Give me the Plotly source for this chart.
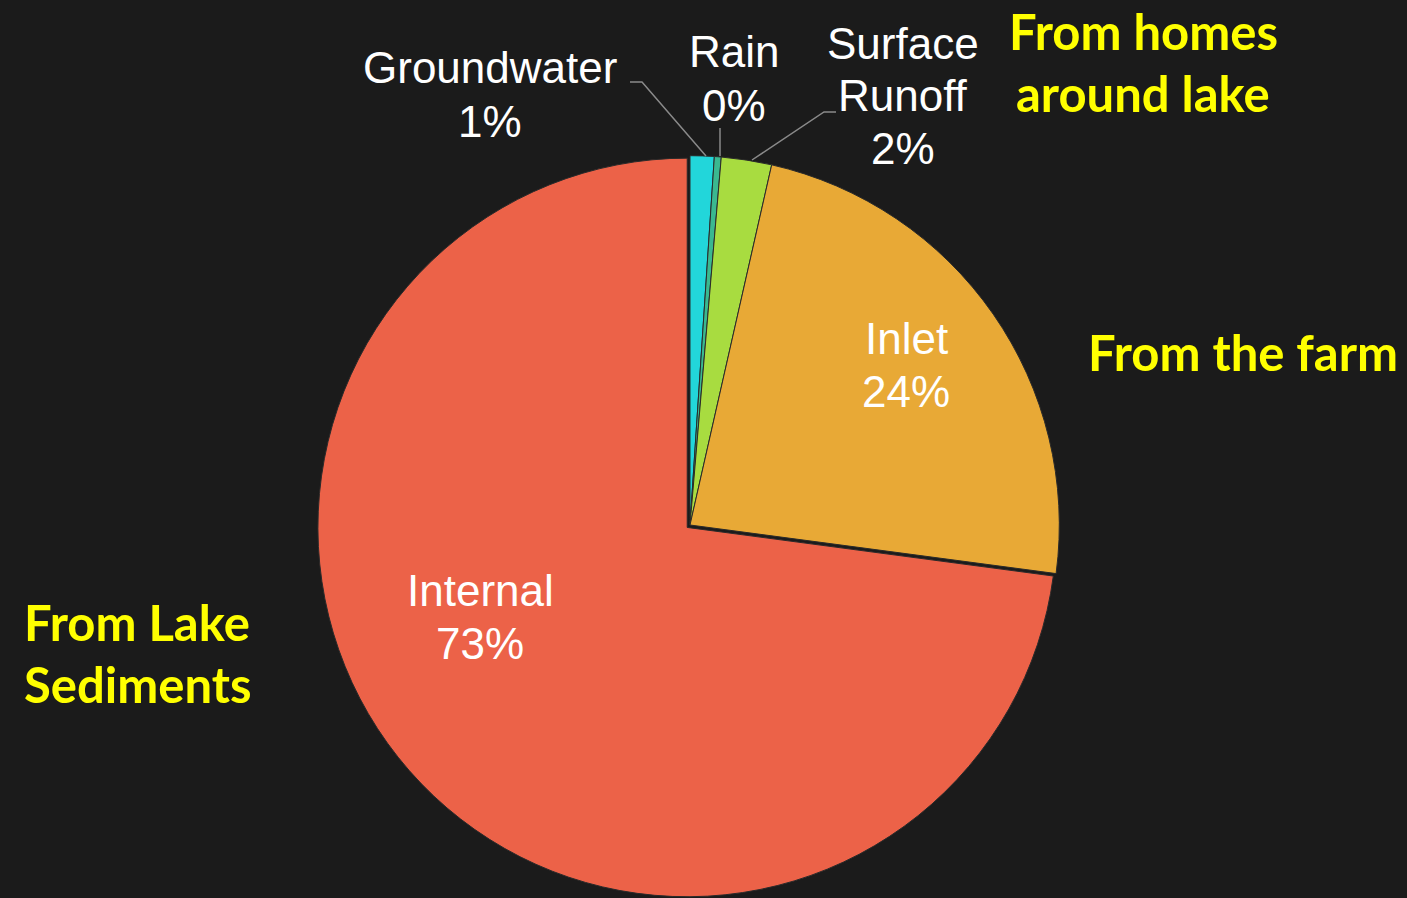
import plotly.graph_objects as go

# Data
sources = ["Groundwater", "Rain", "Surface Runoff", "Inlet", "Internal"]
values = [1.05, 0.3, 2.2, 23.55, 72.9]
colors = ["#22d6da", "#3ab890", "#a8dc40", "#e8a936", "#ec6248"]
pulls = [0, 0, 0, 0, 0.01]
label_lines = [["Groundwater"], ["Rain"], ["Surface", "Runoff"], ["Inlet"], ["Internal"]]
callouts = [["From homes", "around lake"], ["From the farm"], ["From Lake", "Sediments"]]

W, H = 1407, 898
cx, cy = 690, 525
half = H - cy  # 373

total = sum(values)
pct = [round(v / total * 100) for v in values]

fig = go.Figure()
fig.add_trace(go.Pie(
    labels=sources,
    values=values,
    sort=False,
    direction="clockwise",
    rotation=0,
    pull=pulls,
    marker=dict(colors=colors, line=dict(color="#2a2a2a", width=1)),
    textinfo="none",
    showlegend=False,
    hoverinfo="label+percent",
    domain=dict(x=[(cx - half) / W, (cx + half) / W],
                y=[0, 2 * half / H]),
))

def px(x):
    return x / W

def py(y):
    return 1 - y / H

ann = []
lab_font = dict(color="white", size=44, family="Liberation Sans")
# (center x, first line y) for each slice label block
label_pos = [(490, 68), (734, 52), (903, 43), (906, 338), (480, 590)]
step = 53
for lines, p, (x, y0) in zip(label_lines, pct, label_pos):
    for i, t in enumerate(lines + [f"{p}%"]):
        ann.append(dict(x=px(x), y=py(y0 + i * step), xref="paper", yref="paper",
                        text=t, showarrow=False, font=lab_font,
                        xanchor="center", yanchor="middle"))

call_font = dict(color="#ffff00", size=49, family="Lato", weight="bold")
call_pos = [(1143, 31), (1243, 352), (137, 622)]
cstep = 62
for lines, (x, y0) in zip(callouts, call_pos):
    for i, t in enumerate(lines):
        ann.append(dict(x=px(x), y=py(y0 + i * cstep), xref="paper", yref="paper",
                        text=f"<b>{t}</b>", showarrow=False, font=call_font,
                        xanchor="center", yanchor="middle"))

shapes = []
line = dict(color="#8a8a8a", width=1.5)
for pts in [[(630, 82), (642, 82), (706, 156)],
            [(720, 128), (720, 156)],
            [(836, 112), (824, 112), (752, 160)]]:
    path = "M " + " L ".join(f"{px(x)} {py(y)}" for x, y in pts)
    shapes.append(dict(type="path", path=path, xref="paper", yref="paper", line=line))

fig.update_layout(
    width=W, height=H,
    margin=dict(l=0, r=0, t=0, b=0),
    paper_bgcolor="#1b1b1b",
    plot_bgcolor="#1b1b1b",
    annotations=ann,
    shapes=shapes,
)

fig.write_html("out.html")
